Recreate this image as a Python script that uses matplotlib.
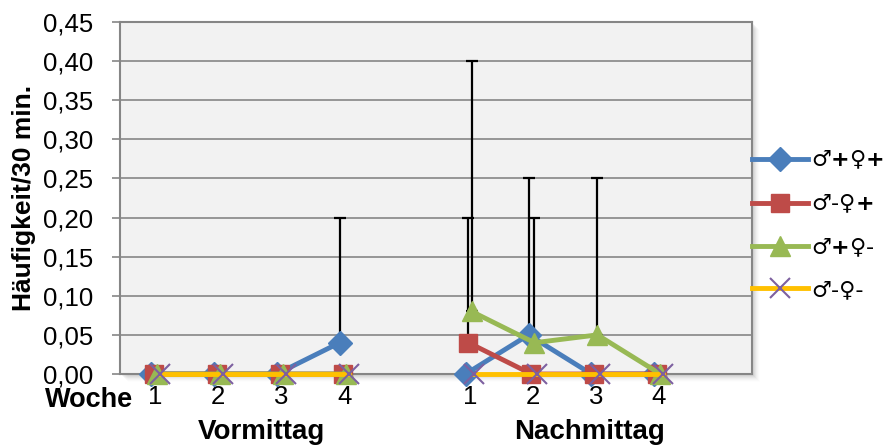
import numpy as np
import matplotlib.pyplot as plt
from matplotlib.patches import Rectangle
from matplotlib.ticker import FuncFormatter
import matplotlib.transforms as mtransforms

plt.rcParams['font.family'] = ['Liberation Sans', 'DejaVu Sans']

# Kategorien
wochen = ['1', '2', '3', '4']
tageszeiten = ['Vormittag', 'Nachmittag']
serien = ['♂$\\mathbf{+}$♀$\\mathbf{+}$', '♂-♀$\\mathbf{+}$',
          '♂$\\mathbf{+}$♀-', '♂-♀-']

# Werte: Vormittag Woche 1-4, Nachmittag Woche 1-4
mp_wp = [0, 0, 0, 0.04, 0, 0.05, 0, 0]
mm_wp = [0, 0, 0, 0, 0.04, 0, 0, 0]
mp_wm = [0, 0, 0, 0, 0.08, 0.04, 0.05, 0]
mm_wm = [0, 0, 0, 0, 0, 0, 0, 0]

# obere Fehlerbalken
mp_wp_err = [0, 0, 0, 0.16, 0, 0.20, 0, 0]
mm_wp_err = [0, 0, 0, 0, 0.16, 0, 0, 0]
mp_wm_err = [0, 0, 0, 0, 0.32, 0.16, 0.20, 0]
mm_wm_err = [0, 0, 0, 0, 0, 0, 0, 0]

werte = [mp_wp, mm_wp, mp_wm, mm_wm]
fehler = [mp_wp_err, mm_wp_err, mp_wm_err, mm_wm_err]
farben = ['#4a7ebb', '#be4b48', '#98b954', '#ffc000']
markerfarben = ['#4a7ebb', '#be4b48', '#98b954', '#7d60a0']
marker = ['D', 's', '^', 'x']
msizes = [12.5, 13.5, 15, 14]
versatz = [-0.07, -0.024, 0.024, 0.07]

pos = np.array([1, 2, 3, 4, 6, 7, 8, 9], dtype=float)

fig = plt.figure(figsize=(8.83, 4.46), dpi=100)
ax = fig.add_axes([120 / 883, 72 / 446, 632 / 883, 352 / 446])
ax.set_facecolor('#f2f2f2')

# Schatten rechts/unten
for i, a in enumerate(np.linspace(0.22, 0.02, 8)):
    d = (i + 1)
    fig.patches.append(Rectangle(((120 + d) / 883, (72 - d) / 446), 632 / 883, 352 / 446,
                                 transform=fig.transFigure, facecolor='#7f7f7f',
                                 alpha=a * 0.5, edgecolor='none', zorder=-1))

for i in range(4):
    x = pos + versatz[i]
    y = np.array(werte[i], dtype=float)
    e = np.array(fehler[i], dtype=float)
    m = e > 0
    if m.any():
        ax.errorbar(x[m], y[m], yerr=[np.zeros(m.sum()), e[m]], fmt='none',
                    ecolor='black', elinewidth=1.6, capsize=4.5, capthick=1.6, zorder=2)

for i in range(4):
    x = np.concatenate([pos[:4], [np.nan], pos[4:]]) + versatz[i]
    y = np.concatenate([werte[i][:4], [np.nan], werte[i][4:]])
    mew = 1.5 if marker[i] == 'x' else 1
    ax.plot(x, y, color=farben[i], lw=3.5, marker=marker[i], markersize=msizes[i],
            markerfacecolor=markerfarben[i], markeredgecolor=markerfarben[i],
            markeredgewidth=mew, label=serien[i], zorder=3 + i, clip_on=False)

ax.set_xlim(0.44, 10.48)
ax.set_ylim(0, 0.45)
ax.set_yticks(np.arange(0, 0.451, 0.05))
ax.yaxis.set_major_formatter(FuncFormatter(lambda v, p: f'{v:.2f}'.replace('.', ',')))
ax.grid(axis='y', color='#868686', lw=1.2, zorder=0)
ax.set_axisbelow(True)
for s in ax.spines.values():
    s.set_color('#868686')
    s.set_linewidth(1.5)
ax.tick_params(axis='y', colors='#868686', length=6, width=1.2, labelsize=18.5,
               labelcolor='black', pad=13.5)
ax.set_xticks(pos)
ax.set_xticklabels(wochen * 2)
ax.tick_params(axis='x', length=0, labelsize=18.5, pad=8)

ax.set_ylabel('Häufigkeit/30 min.', fontsize=19, fontweight='bold', labelpad=5)

trans = mtransforms.blended_transform_factory(ax.transData, ax.transAxes)
ax.text(0.65, -0.075, 'Woche', transform=trans, ha='right', va='center',
        fontsize=19.5, fontweight='bold')
ax.text(2.68, -0.165, tageszeiten[0], transform=trans, ha='center', va='center',
        fontsize=20, fontweight='bold')
ax.text(7.9, -0.165, tageszeiten[1], transform=trans, ha='center', va='center',
        fontsize=20, fontweight='bold')

leg = fig.legend(loc='center left', bbox_to_anchor=(752 / 883, 0.497), frameon=False,
                 prop={'family': 'DejaVu Sans', 'size': 16},
                 handlelength=2.5, handletextpad=0.15, labelspacing=0.95,
                 borderpad=0, borderaxespad=0, numpoints=1)

fig.savefig('out.png', dpi=100)
